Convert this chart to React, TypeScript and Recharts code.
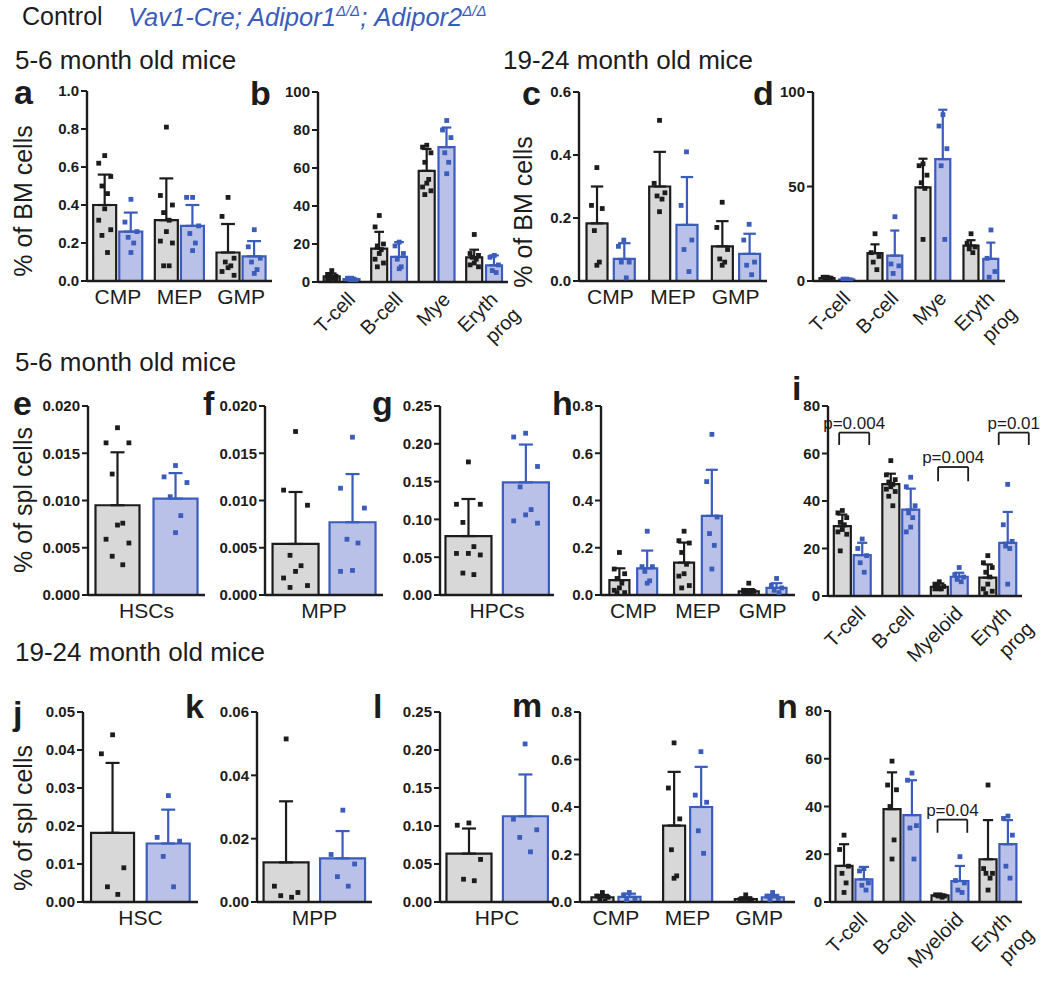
import React from "react"
import { ComposedChart, Bar, ErrorBar, Scatter, XAxis, YAxis, ReferenceLine } from "recharts"

const FONT = '"Liberation Sans", Arial, Helvetica, sans-serif'
const INK = "#1c1c1c"
const GRAY = "#d8d8d8"
const BLUE = "#3a5cba"
const BLUE_FILL = "#bac1e9"

// a: BM progenitors, 5-6 month
const aCats = ["CMP", "MEP", "GMP"]
const aTicks = [0, 0.2, 0.4, 0.6, 0.8, 1.0]
const aCtrl = [0.40, 0.32, 0.15]
const aCtrlSd = [0.16, 0.22, 0.15]
const aMut = [0.26, 0.29, 0.13]
const aMutSd = [0.10, 0.11, 0.08]
const aCtrlPts = [
  [0.66, 0.62, 0.55, 0.50, 0.46, 0.38, 0.32, 0.27, 0.24, 0.15],
  [0.81, 0.45, 0.40, 0.36, 0.32, 0.26, 0.21, 0.20, 0.08, 0.08],
  [0.44, 0.34, 0.12, 0.10, 0.08, 0.07, 0.05, 0.03],
]
const aMutPts = [
  [0.43, 0.31, 0.26, 0.23, 0.20, 0.15],
  [0.44, 0.44, 0.29, 0.25, 0.20, 0.16],
  [0.27, 0.18, 0.12, 0.10, 0.06, 0.04],
]

// b: BM lineages, 5-6 month
const bCats = ["T-cell", "B-cell", "Mye", "Eryth\nprog"]
const bTicks = [0, 20, 40, 60, 80, 100]
const bCtrl = [3, 17.6, 58.5, 13]
const bCtrlSd = [1.5, 8.8, 11.5, 4]
const bMut = [1.5, 13.2, 71, 8.8]
const bMutSd = [0.7, 7.8, 10.3, 5.2]
const bCtrlPts = [
  [6, 4, 3, 3, 2, 2, 1.5, 1, 1],
  [35, 29, 20, 19, 17, 15, 12, 10, 8],
  [72, 71, 68, 63, 54, 52, 50, 48, 46],
  [25, 15, 14, 13, 12, 10, 9, 8],
]
const bMutPts = [
  [2, 2, 1, 1, 1],
  [21, 19, 15, 12, 8, 7],
  [85, 80, 76, 68, 63, 57],
  [14, 13, 9, 6, 5],
]

// c: BM progenitors, 19-24 month
const cCats = ["CMP", "MEP", "GMP"]
const cTicks = [0, 0.2, 0.4, 0.6]
const cCtrl = [0.183, 0.30, 0.11]
const cCtrlSd = [0.117, 0.11, 0.08]
const cMut = [0.07, 0.178, 0.086]
const cMutSd = [0.05, 0.152, 0.064]
const cCtrlPts = [
  [0.36, 0.24, 0.23, 0.16, 0.06, 0.05],
  [0.51, 0.31, 0.28, 0.27, 0.26, 0.22],
  [0.25, 0.17, 0.10, 0.07, 0.06, 0.05],
]
const cMutPts = [
  [0.13, 0.11, 0.06, 0.06, 0.01],
  [0.41, 0.24, 0.13, 0.10, 0.03],
  [0.18, 0.13, 0.06, 0.05, 0.02],
]

// d: BM lineages, 19-24 month
const dCats = ["T-cell", "B-cell", "Mye", "Eryth\nprog"]
const dTicks = [0, 50, 100]
const dCtrl = [1.5, 14.7, 49.5, 18.7]
const dCtrlSd = [0.7, 4.7, 15.2, 2.9]
const dMut = [0.8, 13.4, 64.5, 11.7]
const dMutSd = [0.4, 13.3, 26.1, 8.6]
const dCtrlPts = [
  [2, 2, 1.5, 1, 1],
  [25, 15, 13, 10, 6],
  [62, 61, 56, 52, 49, 22],
  [25, 20, 18, 17, 15],
]
const dMutPts = [
  [1, 1, 0.6, 0.5],
  [34, 9, 8, 4],
  [88, 82, 70, 61, 22],
  [27, 12, 5, 2],
]

// e-g: spleen stem/progenitors, 5-6 month
const eCats = ["HSCs"]
const eTicks = [0, 0.005, 0.01, 0.015, 0.02]
const eCtrl = [0.0095]
const eCtrlSd = [0.0056]
const eMut = [0.0102]
const eMutSd = [0.0027]
const eCtrlPts = [[0.0177, 0.0161, 0.0161, 0.0128, 0.0076, 0.0074, 0.0059, 0.0055, 0.0041, 0.0032]]
const eMutPts = [[0.0137, 0.0125, 0.0119, 0.0104, 0.0084, 0.0066]]

const fCats = ["MPP"]
const fTicks = [0, 0.005, 0.01, 0.015, 0.02]
const fCtrl = [0.0054]
const fCtrlSd = [0.0055]
const fMut = [0.0077]
const fMutSd = [0.0051]
const fCtrlPts = [[0.0173, 0.0111, 0.0095, 0.0042, 0.0031, 0.0025, 0.0018, 0.0010, 0.0008]]
const fMutPts = [[0.0167, 0.0113, 0.0092, 0.0059, 0.0055, 0.0026, 0.0025]]

const gCats = ["HPCs"]
const gTicks = [0, 0.05, 0.1, 0.15, 0.2, 0.25]
const gCtrl = [0.078]
const gCtrlSd = [0.049]
const gMut = [0.149]
const gMutSd = [0.05]
const gCtrlPts = [[0.176, 0.12, 0.12, 0.096, 0.064, 0.055, 0.055, 0.053, 0.029, 0.027]]
const gMutPts = [[0.214, 0.209, 0.17, 0.143, 0.113, 0.106, 0.098, 0.095]]

// h: spleen progenitors, 5-6 month
const hCats = ["CMP", "MEP", "GMP"]
const hTicks = [0, 0.2, 0.4, 0.6, 0.8]
const hCtrl = [0.063, 0.137, 0.015]
const hCtrlSd = [0.05, 0.085, 0.01]
const hMut = [0.113, 0.335, 0.03]
const hMutSd = [0.075, 0.195, 0.02]
const hCtrlPts = [
  [0.18, 0.11, 0.09, 0.07, 0.05, 0.03, 0.02, 0.01, 0.01],
  [0.27, 0.23, 0.22, 0.18, 0.13, 0.09, 0.08, 0.04, 0.03],
  [0.05, 0.02, 0.015, 0.01, 0.01, 0.005, 0.005],
]
const hMutPts = [
  [0.27, 0.12, 0.12, 0.10, 0.06, 0.05],
  [0.68, 0.48, 0.33, 0.26, 0.21, 0.11],
  [0.07, 0.04, 0.03, 0.02, 0.01],
]

// i: spleen lineages, 5-6 month
const iCats = ["T-cell", "B-cell", "Myeloid", "Eryth\nprog"]
const iTicks = [0, 20, 40, 60, 80]
const iCtrl = [29.4, 47.1, 3.9, 7.7]
const iCtrlSd = [4.9, 4.4, 1.4, 5.6]
const iMut = [17.2, 36.4, 8.1, 22.4]
const iMutSd = [5.2, 8.8, 1.7, 13]
const iCtrlPts = [
  [36, 35, 33, 31, 30, 28, 27, 26, 19],
  [57, 51, 49, 48, 47, 46, 45, 44, 42, 38],
  [6, 5, 4, 4, 3, 3, 3],
  [17, 14, 12, 10, 8, 5, 3, 2, 1],
]
const iMutPts = [
  [24, 20, 17, 14, 10],
  [50, 46, 38, 35, 33, 29, 27],
  [12, 9, 8, 7, 6],
  [47, 30, 23, 21, 20, 5],
]
const iStats = [
  { from: 0.23, to: 0.85, top: 68.8, leg: 63.6, text: "p=0.004" },
  { from: 2.27, to: 2.89, top: 54.3, leg: 48.3, text: "p=0.004" },
  { from: 3.52, to: 4.14, top: 68.8, leg: 63.6, text: "p=0.01" },
]

// j-l: spleen stem/progenitors, 19-24 month
const jCats = ["HSC"]
const jTicks = [0, 0.01, 0.02, 0.03, 0.04, 0.05]
const jCtrl = [0.0182]
const jCtrlSd = [0.0184]
const jMut = [0.0154]
const jMutSd = [0.0089]
const jCtrlPts = [[0.044, 0.039, 0.009, 0.004, 0.002]]
const jMutPts = [[0.028, 0.017, 0.016, 0.012, 0.004]]

const kCats = ["MPP"]
const kTicks = [0, 0.02, 0.04, 0.06]
const kCtrl = [0.0125]
const kCtrlSd = [0.0193]
const kMut = [0.0138]
const kMutSd = [0.0086]
const kCtrlPts = [[0.0515, 0.005, 0.003, 0.002, 0.0015]]
const kMutPts = [[0.029, 0.015, 0.012, 0.008, 0.005]]

const lCats = ["HPC"]
const lTicks = [0, 0.05, 0.1, 0.15, 0.2, 0.25]
const lCtrl = [0.0637]
const lCtrlSd = [0.033]
const lMut = [0.1128]
const lMutSd = [0.055]
const lCtrlPts = [[0.104, 0.101, 0.056, 0.030, 0.028]]
const lMutPts = [[0.208, 0.109, 0.095, 0.085, 0.066]]

// m: spleen progenitors, 19-24 month
const mCats = ["CMP", "MEP", "GMP"]
const mTicks = [0, 0.2, 0.4, 0.6, 0.8]
const mCtrl = [0.02, 0.322, 0.012]
const mCtrlSd = [0.01, 0.226, 0.008]
const mMut = [0.022, 0.40, 0.02]
const mMutSd = [0.013, 0.169, 0.01]
const mCtrlPts = [
  [0.04, 0.025, 0.02, 0.01, 0.005],
  [0.67, 0.48, 0.35, 0.22, 0.11, 0.10],
  [0.03, 0.01, 0.008, 0.005, 0.004],
]
const mMutPts = [
  [0.04, 0.03, 0.015, 0.01],
  [0.633, 0.45, 0.42, 0.30, 0.205],
  [0.04, 0.025, 0.015, 0.01],
]

// n: spleen lineages, 19-24 month
const nCats = ["T-cell", "B-cell", "Myeloid", "Eryth\nprog"]
const nTicks = [0, 20, 40, 60, 80]
const nCtrl = [15.1, 38.9, 2.8, 17.9]
const nCtrlSd = [9.1, 15.4, 0.4, 16.4]
const nMut = [9.5, 36.4, 8.8, 24.2]
const nMutSd = [5.2, 14.6, 6.3, 10.1]
const nCtrlPts = [
  [28, 22, 15, 12, 8, 4],
  [59, 49, 47, 40, 26, 18],
  [3, 3, 2.5, 2.5, 2],
  [49, 14, 12, 12, 10, 5],
]
const nMutPts = [
  [14, 13, 8, 7, 5],
  [54, 51, 32, 31, 18],
  [19, 9, 8, 5, 4],
  [36, 35, 28, 15, 10],
]
const nStats = [{ from: 2.24, to: 2.86, top: 34.5, leg: 29, text: "p=0.04" }]

type Stat = { from: number; to: number; top: number; leg: number; text: string }
type PanelCfg = {
  cats: string[]
  ctrl: number[]
  ctrlSd: number[]
  mut: number[]
  mutSd: number[]
  ctrlPts: number[][]
  mutPts: number[][]
  ticks: number[]
  digits: number
  box: [number, number, number, number] // axis x, right x, top y, zero y
  catGap: number
  pairGap: number
  slant?: boolean
  stats?: Stat[]
}

const set = (cats: string[], ctrl: number[], ctrlSd: number[], mut: number[], mutSd: number[], ctrlPts: number[][], mutPts: number[][], ticks: number[]) =>
  ({ cats, ctrl, ctrlSd, mut, mutSd, ctrlPts, mutPts, ticks })

const panels: PanelCfg[] = [
  { ...set(aCats, aCtrl, aCtrlSd, aMut, aMutSd, aCtrlPts, aMutPts, aTicks), digits: 1, box: [87, 272, 91, 281], catGap: 0.1, pairGap: 0.05 },
  { ...set(bCats, bCtrl, bCtrlSd, bMut, bMutSd, bCtrlPts, bMutPts, bTicks), digits: 0, box: [318, 508, 92, 282], catGap: 0.12, pairGap: 0.08, slant: true },
  { ...set(cCats, cCtrl, cCtrlSd, cMut, cMutSd, cCtrlPts, cMutPts, cTicks), digits: 1, box: [579, 767, 92, 281], catGap: 0.12, pairGap: 0.1 },
  { ...set(dCats, dCtrl, dCtrlSd, dMut, dMutSd, dCtrlPts, dMutPts, dTicks), digits: 0, box: [813, 1005, 92, 281], catGap: 0.135, pairGap: 0.1, slant: true },
  { ...set(eCats, eCtrl, eCtrlSd, eMut, eMutSd, eCtrlPts, eMutPts, eTicks), digits: 3, box: [88, 205, 406, 595], catGap: 0.064, pairGap: 0.12 },
  { ...set(fCats, fCtrl, fCtrlSd, fMut, fMutSd, fCtrlPts, fMutPts, fTicks), digits: 3, box: [265, 383, 406, 595], catGap: 0.064, pairGap: 0.093 },
  { ...set(gCats, gCtrl, gCtrlSd, gMut, gMutSd, gCtrlPts, gMutPts, gTicks), digits: 2, box: [440, 554, 406, 595], catGap: 0.048, pairGap: 0.1 },
  { ...set(hCats, hCtrl, hCtrlSd, hMut, hMutSd, hCtrlPts, hMutPts, hTicks), digits: 1, box: [601, 795, 406, 595], catGap: 0.13, pairGap: 0.12 },
  { ...set(iCats, iCtrl, iCtrlSd, iMut, iMutSd, iCtrlPts, iMutPts, iTicks), digits: 0, box: [828, 1022, 406, 596], catGap: 0.12, pairGap: 0.06, slant: true, stats: iStats },
  { ...set(jCats, jCtrl, jCtrlSd, jMut, jMutSd, jCtrlPts, jMutPts, jTicks), digits: 2, box: [83, 198, 712, 902], catGap: 0.07, pairGap: 0.11 },
  { ...set(kCats, kCtrl, kCtrlSd, kMut, kMutSd, kCtrlPts, kMutPts, kTicks), digits: 2, box: [257, 372, 712, 902], catGap: 0.057, pairGap: 0.1 },
  { ...set(lCats, lCtrl, lCtrlSd, lMut, lMutSd, lCtrlPts, lMutPts, lTicks), digits: 2, box: [440, 554, 712, 902], catGap: 0.057, pairGap: 0.1 },
  { ...set(mCats, mCtrl, mCtrlSd, mMut, mMutSd, mCtrlPts, mMutPts, mTicks), digits: 1, box: [580, 795, 712, 902], catGap: 0.16, pairGap: 0.07 },
  { ...set(nCats, nCtrl, nCtrlSd, nMut, nMutSd, nCtrlPts, nMutPts, nTicks), digits: 0, box: [830, 1022, 711, 902], catGap: 0.115, pairGap: 0.06, slant: true, stats: nStats },
]

const Y_W = 52
const M_TOP = 14
const M_RIGHT = 40
const JITTER = [0, -0.26, 0.26, -0.12, 0.12]

const squareDot = (color: string) => (props: any) =>
  <rect x={props.cx - 2.4} y={props.cy - 2.4} width={4.8} height={4.8} fill={color} />

function SlantTick(props: any) {
  const { x, y, payload } = props
  const lines = String(payload.value).split("\n")
  return (
    <g transform={`translate(${x + 4},${y}) rotate(-45)`}>
      <text textAnchor="end" fontSize={20} fill={INK}>
        {lines.map((ln, k) => (
          <tspan key={k} x={k * 5} dy={k ? "1.35em" : "0.75em"}>{ln}</tspan>
        ))}
      </text>
    </g>
  )
}

function Panel({ p }: { p: PanelCfg }) {
  const [L, R, T, B] = p.box
  const n = p.cats.length
  const xH = p.slant ? 90 : 40
  const width = Y_W + (R - L) + M_RIGHT
  const height = M_TOP + (B - T) + xH
  const s = (1 - 2 * p.catGap - p.pairGap) / 2
  const c0 = p.catGap + s / 2
  const c1 = c0 + s + p.pairGap
  const barPx = ((R - L) / n) * s
  const cap = Math.max(4, Math.min(7, barPx * 0.3))
  const rows = p.cats.map((cat, i) => ({
    cat,
    ctrl: p.ctrl[i],
    ctrlErr: [0, p.ctrlSd[i]],
    mut: p.mut[i],
    mutErr: [0, p.mutSd[i]],
  }))
  const dots = (pts: number[][], c: number) =>
    pts.flatMap((vals, i) => vals.map((v, k) => ({ x: i + c + JITTER[k % JITTER.length] * s, y: v })))

  return (
    <div style={{ position: "absolute", left: L - Y_W, top: T - M_TOP }}>
      <ComposedChart
        width={width}
        height={height}
        data={rows}
        margin={{ top: M_TOP, right: M_RIGHT, left: 0, bottom: 0 }}
        barCategoryGap={`${p.catGap * 100}%`}
        barGap={`${p.pairGap * 100}%`}
      >
        <XAxis
          xAxisId="cat"
          dataKey="cat"
          height={xH}
          interval={0}
          tickLine={false}
          axisLine={{ stroke: INK, strokeWidth: 2.4 }}
          tick={p.slant ? <SlantTick /> : { fontSize: 21, fill: INK }}
        />
        <XAxis xAxisId="num" dataKey="x" type="number" domain={[0, n]} hide allowDataOverflow />
        <YAxis
          width={Y_W}
          domain={[0, p.ticks[p.ticks.length - 1]]}
          ticks={p.ticks}
          interval={0}
          allowDataOverflow
          tickFormatter={(v: number) => v.toFixed(p.digits)}
          tick={{ fontSize: 15, fontWeight: 700, fill: INK }}
          tickSize={6}
          tickLine={{ stroke: INK, strokeWidth: 2 }}
          axisLine={{ stroke: INK, strokeWidth: 2.4 }}
        />
        <Bar xAxisId="cat" dataKey="ctrl" fill={GRAY} stroke={INK} strokeWidth={2.2} isAnimationActive={false}>
          <ErrorBar dataKey="ctrlErr" direction="y" width={cap} stroke={INK} strokeWidth={2.2} />
        </Bar>
        <Bar xAxisId="cat" dataKey="mut" fill={BLUE_FILL} stroke={BLUE} strokeWidth={2.2} isAnimationActive={false}>
          <ErrorBar dataKey="mutErr" direction="y" width={cap} stroke={BLUE} strokeWidth={2.2} />
        </Bar>
        <Scatter xAxisId="num" data={dots(p.ctrlPts, c0)} dataKey="y" shape={squareDot(INK)} isAnimationActive={false} />
        <Scatter xAxisId="num" data={dots(p.mutPts, c1)} dataKey="y" shape={squareDot(BLUE)} isAnimationActive={false} />
        {(p.stats || []).flatMap((st, k) => [
          <ReferenceLine
            key={`t${k}`}
            xAxisId="num"
            ifOverflow="visible"
            segment={[{ x: st.from, y: st.top }, { x: st.to, y: st.top }]}
            stroke={INK}
            strokeWidth={1.8}
            label={{ value: st.text, position: "top", fontSize: 17, fill: INK, offset: 4 }}
          />,
          <ReferenceLine key={`l${k}`} xAxisId="num" ifOverflow="visible" segment={[{ x: st.from, y: st.top }, { x: st.from, y: st.leg }]} stroke={INK} strokeWidth={1.8} />,
          <ReferenceLine key={`r${k}`} xAxisId="num" ifOverflow="visible" segment={[{ x: st.to, y: st.top }, { x: st.to, y: st.leg }]} stroke={INK} strokeWidth={1.8} />,
        ])}
      </ComposedChart>
    </div>
  )
}

const letters: [string, number, number][] = [
  ["a", 14, 104], ["b", 250, 105], ["c", 522, 105], ["d", 753, 105],
  ["e", 13, 415], ["f", 203, 415], ["g", 372, 415], ["h", 552, 415], ["i", 792, 400],
  ["j", 13, 725], ["k", 185, 718], ["l", 373, 718], ["m", 512, 717], ["n", 777, 718],
]
const headers: [string, number, number][] = [
  ["5-6 month old mice", 15, 69], ["19-24 month old mice", 503, 69],
  ["5-6 month old mice", 15, 371], ["19-24 month old mice", 15, 661],
]
const yTitles: [string, number, number][] = [
  ["% of BM cells", 23, 201], ["% of BM cells", 523, 212],
  ["% of spl cells", 23, 500], ["% of spl cells", 23, 818],
]

export default function App() {
  return (
    <div style={{ position: "absolute", left: 0, top: 0, width: 1050, height: 985, background: "#fff", fontFamily: FONT, color: INK }}>
      <style>{`.recharts-surface{overflow:visible}`}</style>
      {panels.map((p, i) => <Panel key={i} p={p} />)}
      <svg width={1050} height={985} style={{ position: "absolute", left: 0, top: 0, pointerEvents: "none", overflow: "visible" }}>
        <text x={22} y={25} fontSize={25} fill={INK}>Control</text>
        <text x={128} y={26} fontSize={25.5} fill={BLUE} fontStyle="italic">
          Vav1-Cre; Adipor1
          <tspan fontSize={15} dy={-10}>Δ/Δ</tspan>
          <tspan dy={10}>; Adipor2</tspan>
          <tspan fontSize={15} dy={-10}>Δ/Δ</tspan>
        </text>
        {headers.map(([t, x, y], k) => <text key={k} x={x} y={y} fontSize={26} fill={INK}>{t}</text>)}
        {letters.map(([t, x, y]) => <text key={t} x={x} y={y} fontSize={34} fontWeight={700} fill={INK}>{t}</text>)}
        {yTitles.map(([t, x, y], k) => (
          <text key={k} transform={`translate(${x},${y}) rotate(-90)`} textAnchor="middle" dominantBaseline="central" fontSize={25} fill={INK}>{t}</text>
        ))}
      </svg>
    </div>
  )
}
